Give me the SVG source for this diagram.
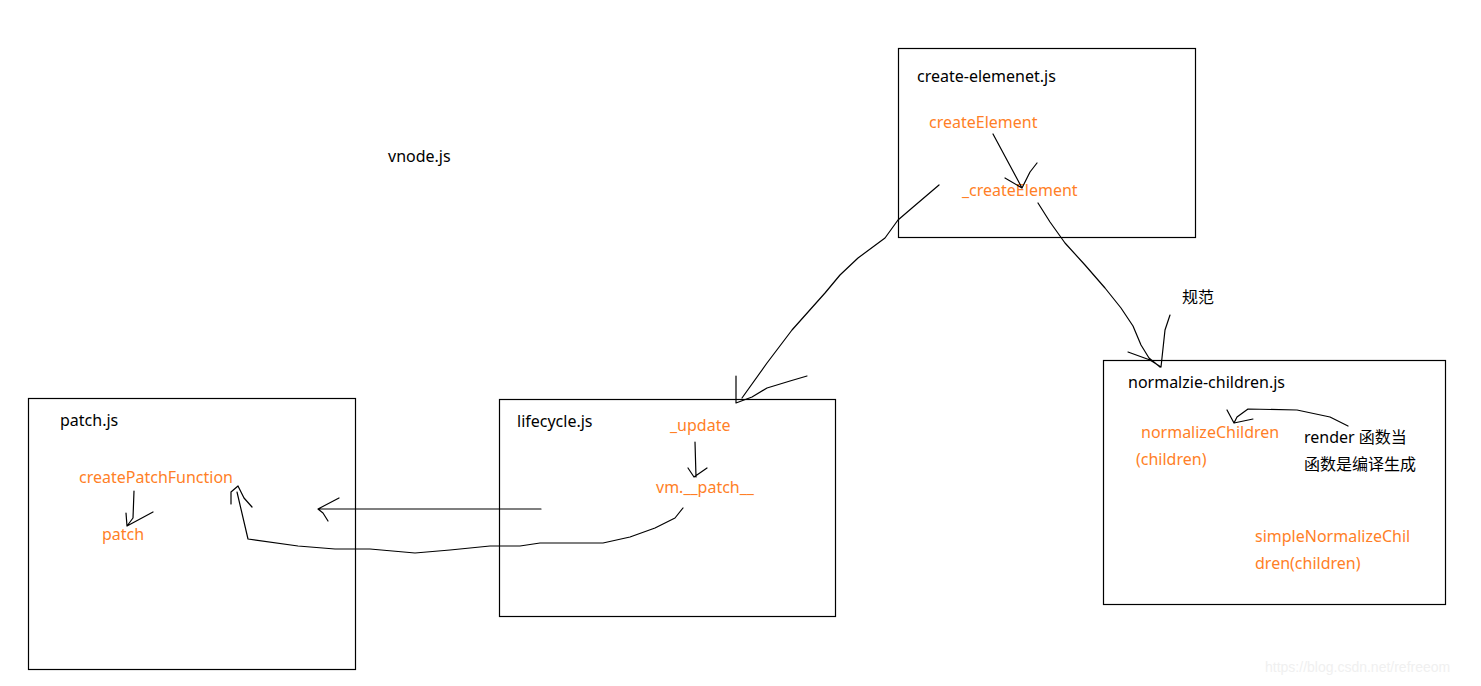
<svg xmlns="http://www.w3.org/2000/svg" width="1481" height="686" viewBox="0 0 1481 686">
<style>
.box{fill:none;stroke:#000;stroke-width:1.2}
.t{font-family:"Noto Sans","Noto Sans CJK SC",sans-serif;font-size:16px;fill:#000}
.o{font-family:"Noto Sans","Noto Sans CJK SC",sans-serif;font-size:16px;fill:#FF7F27}
.c{fill:none;stroke:#000;stroke-width:1.2;stroke-linejoin:round;stroke-linecap:round}
.wm{font-family:"Liberation Sans",sans-serif;font-size:14px;fill:#f0f0f0}
</style>
<rect width="1481" height="686" fill="#fff"/>
<g id="vnode"><text class="t" x="388" y="162">vnode.js</text></g>
<g id="create-element">
<rect class="box" x="898.5" y="48.5" width="297" height="189"/>
<text class="t" x="917" y="82">create-elemenet.js</text>
<text class="o" x="929" y="128">createElement</text>
<text class="o" x="962" y="196">_createElement</text>
</g>
<g id="normalize-children">
<rect class="box" x="1103.5" y="360.5" width="342" height="244"/>
<text class="t" x="1128" y="388">normalzie-children.js</text>
<text class="o" x="1141" y="438">normalizeChildren</text>
<text class="o" x="1136" y="465">(children)</text>
<text class="t" x="1304" y="443">render 函数当</text>
<text class="t" x="1304" y="470">函数是编译生成</text>
<text class="o" x="1255" y="542">simpleNormalizeChil</text>
<text class="o" x="1255" y="569">dren(children)</text>
</g>
<g id="guifan"><text class="t" x="1182" y="303">规范</text></g>
<g id="lifecycle">
<rect class="box" x="499.5" y="399.5" width="336" height="217"/>
<text class="t" x="517" y="427">lifecycle.js</text>
<text class="o" x="670" y="431">_update</text>
<text class="o" x="656" y="493">vm.__patch__</text>
</g>
<g id="patch">
<rect class="box" x="28.5" y="398.5" width="327" height="271"/>
<text class="t" x="60" y="426">patch.js</text>
<text class="o" x="79" y="483">createPatchFunction</text>
<text class="o" x="102" y="540">patch</text>
</g>
<g id="connectors">
<path class="c" d="M993,134 L1022,188 M1005,178 L1022,188 L1030,172 L1037,163"/>
<path class="c" d="M1038,203 L1050,222 L1065,243 L1085,265 L1105,288 L1121,308 L1133,326 L1141,345 L1149,358 L1160,367 M1128,352 L1150,360 L1161,367 L1165,330 L1170,315"/>
<path class="c" d="M939,185 L912,208 L898,220 L885,238 L858,258 L840,275 L825,293 L792,330 L767,363 L742,398 M736,376 L736,403 L752,397 L767,388 L790,381 L807,376"/>
<path class="c" d="M695,442 L696,477 M688,468 L694,477 L707,468"/>
<path class="c" d="M541,509 L318,509 M339,498 L318,509 L323,513 L328,521"/>
<path class="c" d="M683,508 L675,518 L655,528 L630,537 L603,543 L540,543 L520,546 L490,546 L450,550 L415,553 L370,549 L335,549 L298,546 L248,539 L237,492 M231,504 L231,492 L238,486 L244,498 L252,507"/>
<path class="c" d="M134,491 L133,518 L127,526 M126,513 L127,526 L153,512"/>
<path class="c" d="M1348,426 L1330,417 L1297,410 L1248,409 L1237,417 L1234,423 M1227,410 L1234,423 M1253,419 L1234,423"/>
</g>
<text class="wm" x="1265" y="672">https://blog.csdn.net/refreeom</text>
</svg>
